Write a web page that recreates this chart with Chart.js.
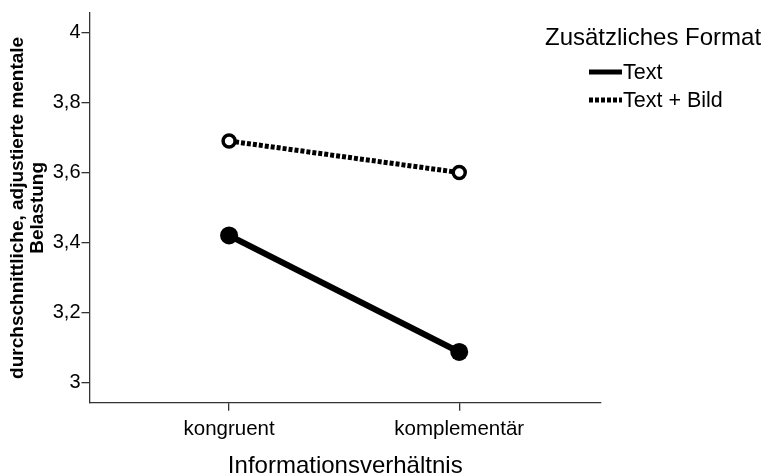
<!DOCTYPE html>
<html>
<head>
<meta charset="utf-8">
<script src="https://cdn.jsdelivr.net/npm/chart.js@4"></script>
<style>
  html, body { margin: 0; padding: 0; background: #fff; }
  #wrap { width: 768px; height: 476px; }
</style>
</head>
<body>
<div id="wrap"><canvas id="interactionChart" width="768" height="476"></canvas></div>
<script>
// Categories on the x axis
const categories = ['kongruent', 'komplementär'];
// Adjusted mean mental load per format
const textValues = [3.421, 3.088];
const textBildValues = [3.691, 3.601];
const seriesLabels = ['Text', 'Text + Bild'];
// y tick labels
const yTicks = [3, 3.2, 3.4, 3.6, 3.8, 4];

const FONT = "'Liberation Sans', Arial, sans-serif";

// Legend in the top right corner (SPSS style)
const formatLegend = {
    id: 'formatLegend',
    afterDraw(chart) {
        const ctx = chart.ctx;
        ctx.save();
        ctx.fillStyle = '#000';
        ctx.textBaseline = 'middle';
        ctx.textAlign = 'left';
        ctx.font = '24px ' + FONT;
        ctx.fillText('Zusätzliches Format', 545, 38);

        ctx.font = '21.5px ' + FONT;
        chart.data.datasets.forEach((ds, i) => {
            const y = 72 + i * 28;
            ctx.beginPath();
            ctx.strokeStyle = '#000';
            ctx.lineWidth = 5;
            ctx.setLineDash(ds.borderDash ? [4, 2] : []);
            ctx.moveTo(589, y);
            ctx.lineTo(622, y);
            ctx.stroke();
            ctx.setLineDash([]);
            ctx.fillText(ds.label, 623, y + 1);
        });
        ctx.restore();
    }
};

const ctx = document.getElementById('interactionChart').getContext('2d');
new Chart(ctx, {
    type: 'line',
    data: {
        datasets: [
            {
                label: seriesLabels[0],
                data: textValues.map((v, i) => ({ x: i, y: v })),
                borderColor: '#000',
                backgroundColor: '#000',
                borderWidth: 6,
                pointRadius: 9,
                pointBorderWidth: 0,
                pointBackgroundColor: '#000'
            },
            {
                label: seriesLabels[1],
                data: textBildValues.map((v, i) => ({ x: i, y: v })),
                borderColor: '#000',
                backgroundColor: '#fff',
                borderWidth: 5,
                borderDash: [4, 2],
                pointRadius: 6,
                pointBorderWidth: 3.5,
                pointBorderColor: '#000',
                pointBackgroundColor: '#fff'
            }
        ]
    },
    options: {
        responsive: false,
        animation: false,
        layout: {
            padding: { left: 0, right: 167, top: 12, bottom: 0 }
        },
        plugins: {
            legend: { display: false },
            tooltip: { enabled: false }
        },
        scales: {
            x: {
                type: 'linear',
                min: -0.6065,
                max: 1.616,
                afterBuildTicks: scale => { scale.ticks = categories.map((c, i) => ({ value: i })); },
                afterFit: scale => { scale.height = 73.3; },
                border: { display: true, color: '#333', width: 1.3 },
                grid: { drawOnChartArea: false, drawTicks: true, tickLength: 8, color: '#333', lineWidth: 1.3 },
                ticks: {
                    color: '#000',
                    font: { family: FONT, size: 20.5 },
                    padding: 6,
                    maxRotation: 0,
                    callback: value => categories[value]
                },
                title: {
                    display: true,
                    text: 'Informationsverhältnis',
                    color: '#000',
                    font: { family: FONT, size: 24, lineHeight: 0.8 },
                    padding: { top: 0, bottom: 0 }
                }
            },
            y: {
                min: 2.943,
                max: 4.057,
                afterBuildTicks: scale => { scale.ticks = yTicks.map(v => ({ value: v })); },
                afterFit: scale => { scale.width = 89.5; },
                border: { display: true, color: '#333', width: 1.3 },
                grid: { drawOnChartArea: false, drawTicks: true, tickLength: 8, color: '#333', lineWidth: 1.3 },
                ticks: {
                    color: '#000',
                    font: { family: FONT, size: 20 },
                    padding: 1,
                    callback: value => String(value).replace('.', ',')
                },
                title: {
                    display: true,
                    text: ['durchschnittliche, adjustierte mentale', 'Belastung'],
                    color: '#000',
                    font: { family: FONT, size: 19, weight: 'bold', lineHeight: 1.05 },
                    padding: { top: 8, bottom: 0 }
                }
            }
        }
    },
    plugins: [formatLegend]
});
</script>
</body>
</html>
